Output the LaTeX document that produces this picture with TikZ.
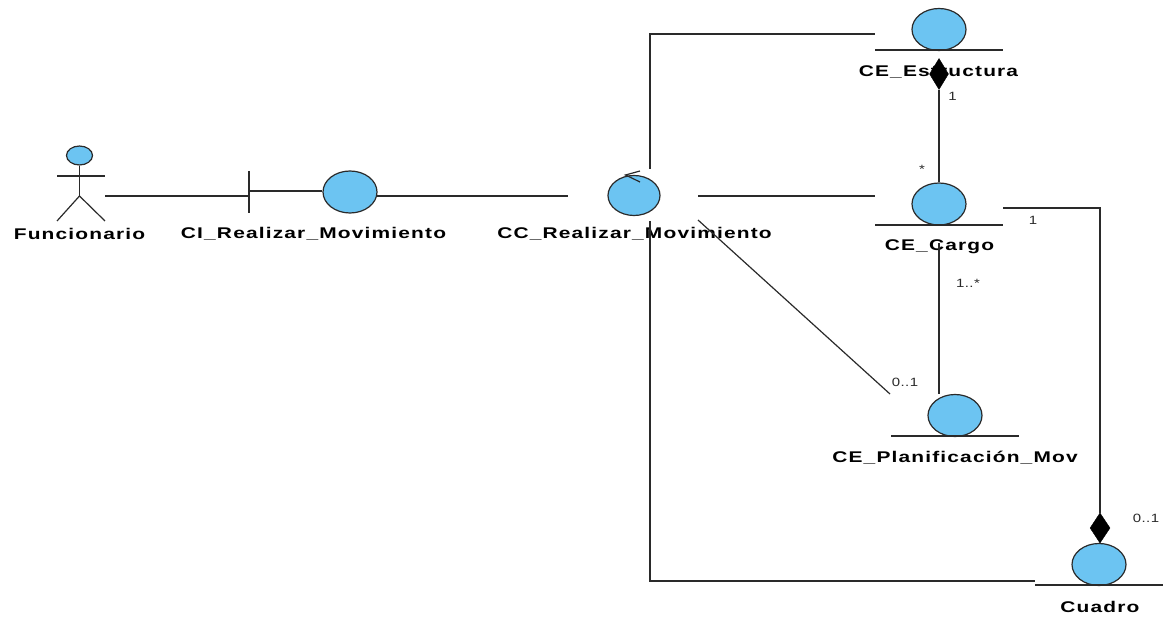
\documentclass[tikz,border=0pt]{standalone}
\usepackage{fontspec}
\setmainfont{Liberation Sans}
\newfontfamily\lblfont[FakeStretch=1.35,LetterSpace=7.5]{Liberation Sans Bold}
\newfontfamily\multfont[FakeStretch=1.25,LetterSpace=4]{Liberation Sans}
\usetikzlibrary{shapes.geometric}
\definecolor{objblue}{HTML}{6CC4F2}
\definecolor{ink}{HTML}{2A2A2A}
\tikzset{
  x=1pt,y=-1pt,
  lineink/.style={draw=ink,line width=1.2pt},
  obj/.style={ellipse,draw=ink,line width=1.2pt,fill=objblue,minimum width=54pt,minimum height=42pt,inner sep=0pt},
  actorhead/.style={ellipse,draw=ink,line width=1.2pt,fill=objblue,minimum width=26pt,minimum height=19pt,inner sep=0pt},
  lbl/.style={font=\lblfont\fontsize{15.5}{17}\selectfont,text=black,inner sep=0pt},
  mult/.style={font=\multfont\fontsize{12}{14}\selectfont,text=ink,inner sep=0pt},
  comp/.style={diamond,fill=black,draw=black,inner sep=0pt,minimum width=19pt,minimum height=31pt}
}
\begin{document}
\begin{tikzpicture}
\useasboundingbox (0,0) rectangle (1163,617);
% labels first: the lines run over them
\node[lbl] (tFunc) at (79.5,233.5) {Funcionario};
\node[lbl] (tCI) at (313.5,233.5) {CI\_Realizar\_Movimiento};
\node[lbl] (tCC) at (634.5,233.5) {CC\_Realizar\_Movimiento};
\node[lbl] (tEst) at (938.5,72) {CE\_Estructura};
\node[lbl] (tCar) at (939.5,246.5) {CE\_Cargo};
\node[lbl] (tPla) at (955,457.5) {CE\_Planificación\_Mov};
\node[lbl] (tCua) at (1100,606.5) {Cuadro};
% objects
\node[actorhead] (actor) at (79.5,155.5) {};
\node[obj] (ci) at (350,192) {};
\node[obj,minimum width=52pt,minimum height=40pt] (cc) at (634,195.5) {};
\node[obj] (est) at (939,29.5) {};
\node[obj] (car) at (939,204) {};
\node[obj] (pla) at (955,415.5) {};
\node[obj] (cua) at (1099,564.5) {};
% entity underlines
\coordinate (estL) at (875,50); \coordinate (estR) at (1003,50);
\coordinate (carL) at (875,225); \coordinate (carR) at (1003,225);
\coordinate (plaL) at (891,436); \coordinate (plaR) at (1019,436);
\coordinate (cuaL) at (1035,585); \coordinate (cuaR) at (1163,585);
\draw[lineink] (estL) -- (estR);
\draw[lineink] (carL) -- (carR);
\draw[lineink] (plaL) -- (plaR);
\draw[lineink] (cuaL) -- (cuaR);
% actor figure
\coordinate (hip) at (79.5,196);
\coordinate (armL) at (57,176); \coordinate (armR) at (105,176);
\coordinate (legL) at (57,221); \coordinate (legR) at (105,221);
\draw[lineink] (actor.south) -- (hip);
\draw[lineink] (armL) -- (armR);
\draw[lineink] (legL) -- (hip) -- (legR);
% boundary bar
\coordinate (barT) at (249,171); \coordinate (barB) at (249,213); \coordinate (barM) at (249,191);
\draw[lineink] (barT) -- (barB);
\draw[lineink] (barM) -- (ci.west |- barM);
% control arrow
\coordinate (ctip) at (625.5,175); \coordinate (ca) at (640,171); \coordinate (cb) at (640,182);
\draw[lineink] (ca) -- (ctip) -- (cb);
% connectors
\coordinate (a1) at (105,196);
\draw[lineink] (a1) -- (barM |- a1);
\coordinate (c1) at (377,196); \coordinate (c2) at (568,196);
\draw[lineink] (c1) -- (c2);
\coordinate (c3) at (698,196); \coordinate (c4) at (875,196);
\draw[lineink] (c3) -- (c4);
\coordinate (u1) at (650,169); \coordinate (u2) at (650,34); \coordinate (u3) at (875,34);
\draw[lineink] (u1) -- (u2) -- (u3);
\coordinate (d1) at (650,221); \coordinate (d2) at (650,581); \coordinate (d3) at (1035,581);
\draw[lineink] (d1) -- (d2) -- (d3);
\coordinate (g1) at (698,220); \coordinate (g2) at (890,394);
\draw[lineink] (g1) -- (g2);
\node[comp] (dEst) at (939,74) {};
\draw[lineink] (dEst.south) -- (car.north);
\coordinate (v1) at (939,243); \coordinate (v2) at (939,394);
\draw[lineink] (v1) -- (v2);
\node[comp,minimum height=30pt,minimum width=20pt] (dCua) at (1100,528) {};
\coordinate (r1) at (1003,208); \coordinate (r2) at (1100,208);
\draw[lineink] (r1) -- (r2) -- (dCua.north);
\draw[lineink] (dCua.south) -- (cua.north -| dCua.south);
% multiplicities
\node[mult] (m1) at (952.5,96.5) {1};
\node[mult] (m2) at (922,169) {*};
\node[mult] (m3) at (1033,220) {1};
\node[mult] (m4) at (968,283) {1..*};
\node[mult] (m5) at (905,382) {0..1};
\node[mult] (m6) at (1146,518) {0..1};
\end{tikzpicture}
\end{document}
